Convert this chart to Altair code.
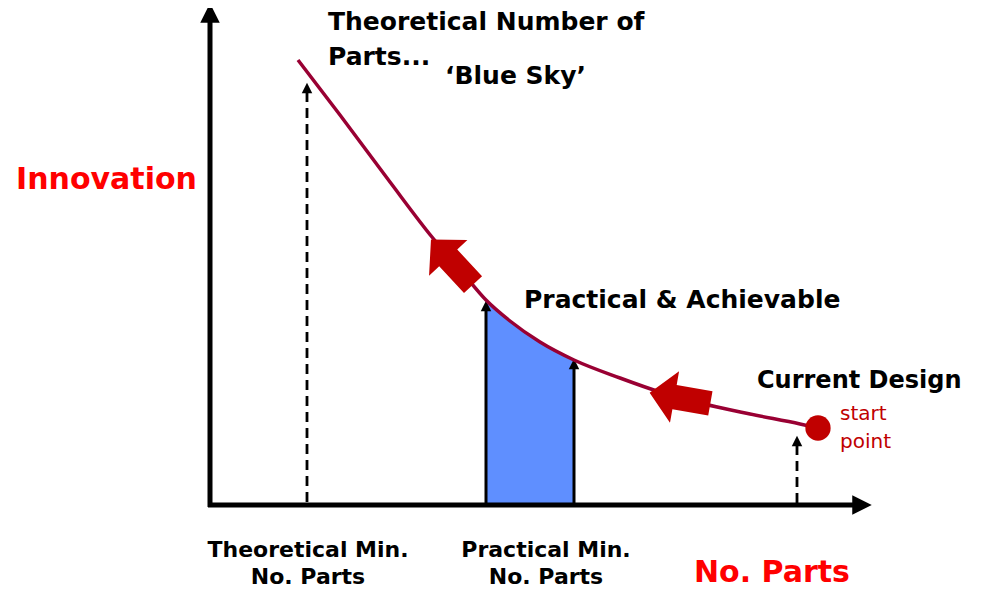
import altair as alt
import pandas as pd

# ---- data (diagram coordinates: x to the right, y downward) ----
curve_x = [298, 340, 390, 432, 462, 486, 510, 540, 574, 620, 660, 700, 750, 800, 818]
curve_y = [60, 115, 182, 237, 272, 300, 321, 342, 360, 378, 392, 403, 414, 424, 428]

fill_x = [486, 500, 510, 525, 540, 557, 574]
fill_y = [300, 313, 321, 332, 342, 352, 360]

axis_origin = [210, 505]
axis_x_end = 856
axis_y_end = 20

dashed_x = [307, 797]
dashed_top = [92, 445]
solid_x = [486, 574]
solid_top = [310, 368]

red_arrow_x = [452, 680]
red_arrow_y = [262, 398]
red_arrow_angle = [317, 280]

start_point = [818, 428]

bold_left_labels = ["Theoretical Number of", "Parts...", "\u2018Blue Sky\u2019", "Practical & Achievable", "Current Design"]
bold_left_x = [328, 328, 445, 524, 757]
bold_left_y = [30, 65, 84, 308, 388]
bold_left_size = [25, 25, 25, 25, 24]

center_labels = ["Theoretical Min.", "No. Parts", "Practical Min.", "No. Parts"]
center_x = [308, 308, 546, 546]
center_y = [557, 584, 557, 584]

red_labels = ["Innovation", "No. Parts"]
red_x = [16, 694]
red_y = [189, 582]

small_labels = ["start", "point"]
small_x = [840, 840]
small_y = [420, 448]

# ---- scales ----
X = alt.Scale(domain=[8, 974], nice=False, zero=False)
Y = alt.Scale(domain=[8, 590], nice=False, zero=False, reverse=True)

def ex(f="x"):
    return alt.X(f"{f}:Q", scale=X, axis=None)

def ey(f="y"):
    return alt.Y(f"{f}:Q", scale=Y, axis=None)

FONT = "DejaVu Sans"

# blue fill under curve
fill_df = pd.DataFrame({"x": fill_x, "y": fill_y, "y0": [axis_origin[1]] * len(fill_x)})
fill = alt.Chart(fill_df).mark_area(color="#5f8fff", interpolate="monotone", opacity=1).encode(
    x=ex(), y=ey(), y2="y0:Q")

# curve
curve_df = pd.DataFrame({"x": curve_x, "y": curve_y})
curve = alt.Chart(curve_df).mark_line(color="#990033", strokeWidth=3.5, interpolate="monotone").encode(
    x=ex(), y=ey())

# axes lines
axes_df = pd.DataFrame({
    "x": [axis_origin[0], axis_origin[0] - 2],
    "x2": [axis_origin[0], axis_x_end],
    "y": [axis_origin[1] + 2, axis_origin[1]],
    "y2": [axis_y_end, axis_origin[1]],
})
axes = alt.Chart(axes_df).mark_rule(color="black", strokeWidth=5).encode(
    x=ex(), x2="x2:Q", y=ey(), y2="y2:Q")

axis_heads_df = pd.DataFrame({"x": [axis_origin[0], 862], "y": [13, axis_origin[1]], "angle": [0, 90]})
axis_heads = alt.Chart(axis_heads_df).mark_point(
    shape="M0,-1L1,1L-1,1Z", filled=True, color="black", opacity=1, size=380, strokeWidth=0
).encode(x=ex(), y=ey(), angle=alt.Angle("angle:Q", scale=None))

# dashed arrows
dashed_df = pd.DataFrame({"x": dashed_x, "y": dashed_top, "y2": [axis_origin[1]] * 2})
dashed = alt.Chart(dashed_df).mark_rule(color="black", strokeWidth=2.8, strokeDash=[10, 6]).encode(
    x=ex(), y=ey(), y2="y2:Q")

# solid arrows
solid_df = pd.DataFrame({"x": solid_x, "y": solid_top, "y2": [axis_origin[1]] * 2})
solid = alt.Chart(solid_df).mark_rule(color="black", strokeWidth=3).encode(
    x=ex(), y=ey(), y2="y2:Q")

small_heads_df = pd.DataFrame({"x": dashed_x + solid_x, "y": [t - 4 for t in dashed_top + solid_top]})
small_heads = alt.Chart(small_heads_df).mark_point(
    shape="M0,-1L1,1L-1,1Z", filled=True, color="black", opacity=1, size=110, strokeWidth=0
).encode(x=ex(), y=ey())

# red block arrows
arrows_df = pd.DataFrame({"x": red_arrow_x, "y": red_arrow_y, "angle": red_arrow_angle})
arrows = alt.Chart(arrows_df).mark_point(
    shape="M0,-1L0.85,-0.18L0.4,-0.18L0.4,1L-0.4,1L-0.4,-0.18L-0.85,-0.18Z",
    filled=True, color="#c00000", opacity=1, size=3800, strokeWidth=0
).encode(x=ex(), y=ey(), angle=alt.Angle("angle:Q", scale=None))

# start point
dot_df = pd.DataFrame({"x": [start_point[0]], "y": [start_point[1]]})
dot = alt.Chart(dot_df).mark_point(shape="circle", filled=True, color="#c00000", opacity=1, size=640,
                                   strokeWidth=0).encode(x=ex(), y=ey())

# texts
bl_df = pd.DataFrame({"x": bold_left_x, "y": bold_left_y, "t": bold_left_labels, "s": bold_left_size})
bold_left = alt.Chart(bl_df).mark_text(font=FONT, fontWeight="bold", align="left", baseline="alphabetic",
                                       color="black").encode(
    x=ex(), y=ey(), text="t:N", size=alt.Size("s:Q", scale=None))

c_df = pd.DataFrame({"x": center_x, "y": center_y, "t": center_labels})
centered = alt.Chart(c_df).mark_text(font=FONT, fontWeight="bold", align="center", baseline="alphabetic",
                                     color="black", fontSize=22).encode(x=ex(), y=ey(), text="t:N")

r_df = pd.DataFrame({"x": red_x, "y": red_y, "t": red_labels})
red = alt.Chart(r_df).mark_text(font=FONT, fontWeight="bold", align="left", baseline="alphabetic",
                                color="#ff0000", fontSize=30).encode(x=ex(), y=ey(), text="t:N")

s_df = pd.DataFrame({"x": small_x, "y": small_y, "t": small_labels})
small = alt.Chart(s_df).mark_text(font=FONT, align="left", baseline="alphabetic",
                                  color="#c00000", fontSize=20).encode(x=ex(), y=ey(), text="t:N")

chart = alt.layer(
    fill, dashed, solid, small_heads, curve, axes, axis_heads, arrows, dot,
    bold_left, centered, red, small
).properties(
    width=966, height=582, padding=0, background="white",
    autosize=alt.AutoSizeParams(type="none")
).configure_view(stroke=None)

chart.save("out.html", embed_options={"renderer": "svg", "actions": False})
